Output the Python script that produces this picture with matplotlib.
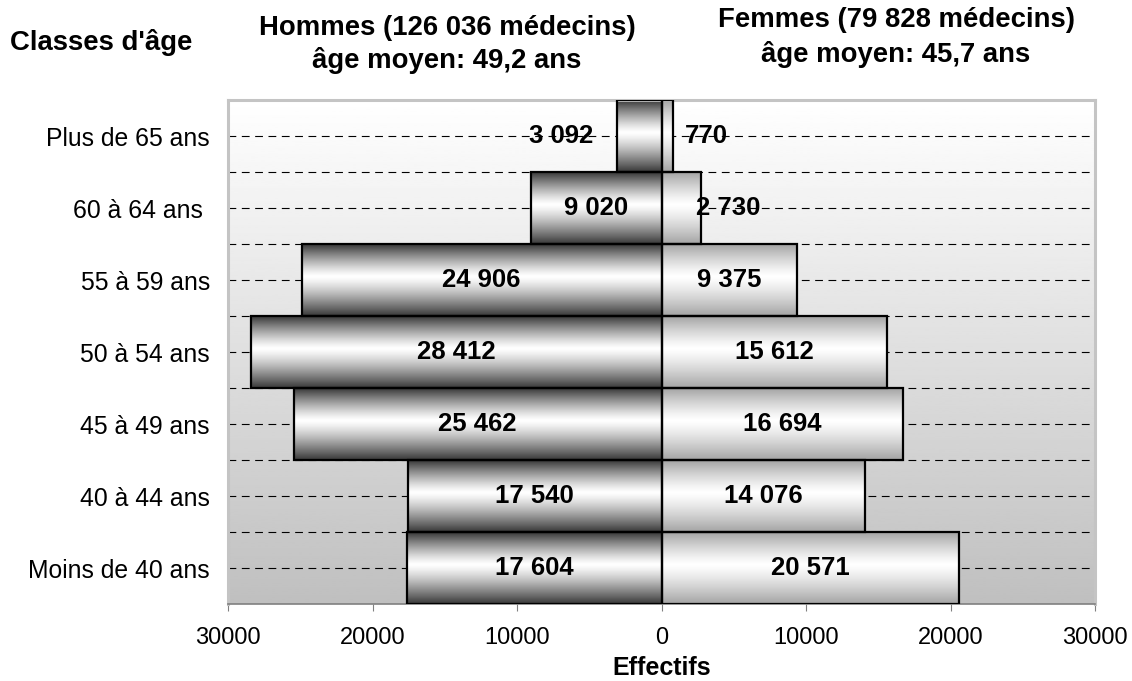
import matplotlib.pyplot as plt
import numpy as np

plt.rcParams['font.family'] = ['Liberation Sans', 'DejaVu Sans']

# age classes, bottom to top
classes = ["Moins de 40 ans", "40 à 44 ans", "45 à 49 ans", "50 à 54 ans",
           "55 à 59 ans", "60 à 64 ans ", "Plus de 65 ans"]
hommes = [17604, 17540, 25462, 28412, 24906, 9020, 3092]
femmes = [20571, 14076, 16694, 15612, 9375, 2730, 770]
ticks = [-30000, -20000, -10000, 0, 10000, 20000, 30000]

# labels that do not sit in the middle of their bar (index -> x in data units)
shift_h = {6: -6955}
shift_f = {5: 4640, 6: 3114}


def fmt(v):
    return f"{v:,}".replace(",", " ")


def gradient(edge):
    t = np.linspace(0, 1, 200)
    d = np.where(t < 0.45, (0.45 - t) / 0.45, (t - 0.45) / 0.55)
    v = 1 - (1 - edge) * d ** 1.25
    return v.reshape(-1, 1)


fig = plt.figure(figsize=(11.32, 6.81), dpi=100)
ax = fig.add_axes([228 / 1132, 1 - 604 / 681, 867 / 1132, 504 / 681])
ax.set_xlim(-30000, 30000)
ax.set_ylim(-0.5, 6.5)

# background gradient white -> grey
bg = np.linspace(1, 0.75, 256).reshape(-1, 1)
ax.imshow(bg, cmap='gray', vmin=0, vmax=1, aspect='auto', extent=(0, 1, 0, 1),
          transform=ax.transAxes, zorder=0)

for k in np.arange(0, 6.01, 0.5):
    ax.axhline(k, color='black', lw=0.8, linestyle=(0, (7, 5)), zorder=1)

y = np.arange(len(classes))
bh = ax.barh(y, [-v for v in hommes], height=1, facecolor='none',
             edgecolor='black', lw=1.6, zorder=3)
bf = ax.barh(y, femmes, height=1, facecolor='none',
             edgecolor='black', lw=1.6, zorder=3)

for patches, edge in ((bh, 0.22), (bf, 0.64)):
    g = gradient(edge)
    for p in patches:
        x0, x1 = sorted([p.get_x(), p.get_x() + p.get_width()])
        y0 = p.get_y()
        ax.imshow(g, cmap='gray', vmin=0, vmax=1, aspect='auto',
                  extent=(x0, x1, y0, y0 + p.get_height()), zorder=2)

ax.set_xlim(-30000, 30000)
ax.set_ylim(-0.5, 6.5)

for i in y:
    xh = shift_h.get(i, -hommes[i] / 2)
    xf = shift_f.get(i, femmes[i] / 2)
    ax.text(xh, i, fmt(hommes[i]), ha='center', va='center', fontsize=18.5,
            fontweight='bold', zorder=4)
    ax.text(xf, i, fmt(femmes[i]), ha='center', va='center', fontsize=18.5,
            fontweight='bold', zorder=4)

ax.set_yticks(y)
ax.set_yticklabels(classes, fontsize=17.8)
ax.tick_params(axis='y', length=0, pad=13)
ax.set_xticks(ticks)
ax.set_xticklabels([str(abs(t)) for t in ticks], fontsize=17)
ax.tick_params(axis='x', length=5, color='#808080', pad=11.5)

for s in ('top', 'left', 'right'):
    ax.spines[s].set_color('#c4c4c4')
    ax.spines[s].set_linewidth(2.2)
ax.spines['bottom'].set_color('#808080')
ax.spines['bottom'].set_linewidth(1.2)

ax.set_xlabel("Effectifs", fontsize=18, fontweight='bold', labelpad=5)

title_fs = 19.8
fig.text(10 / 1132, 1 - 42 / 681, "Classes d'âge", fontsize=title_fs,
         fontweight='bold', ha='left', va='center')
fig.text(447 / 1132, 1 - 28 / 681, "Hommes (126 036 médecins)", fontsize=title_fs,
         fontweight='bold', ha='center', va='center')
fig.text(447 / 1132, 1 - 60 / 681, "âge moyen: 49,2 ans", fontsize=title_fs,
         fontweight='bold', ha='center', va='center')
fig.text(896 / 1132, 1 - 20 / 681, "Femmes (79 828 médecins)", fontsize=title_fs,
         fontweight='bold', ha='center', va='center')
fig.text(896 / 1132, 1 - 55 / 681, "âge moyen: 45,7 ans", fontsize=title_fs,
         fontweight='bold', ha='center', va='center')

fig.savefig("out.png", dpi=100)
